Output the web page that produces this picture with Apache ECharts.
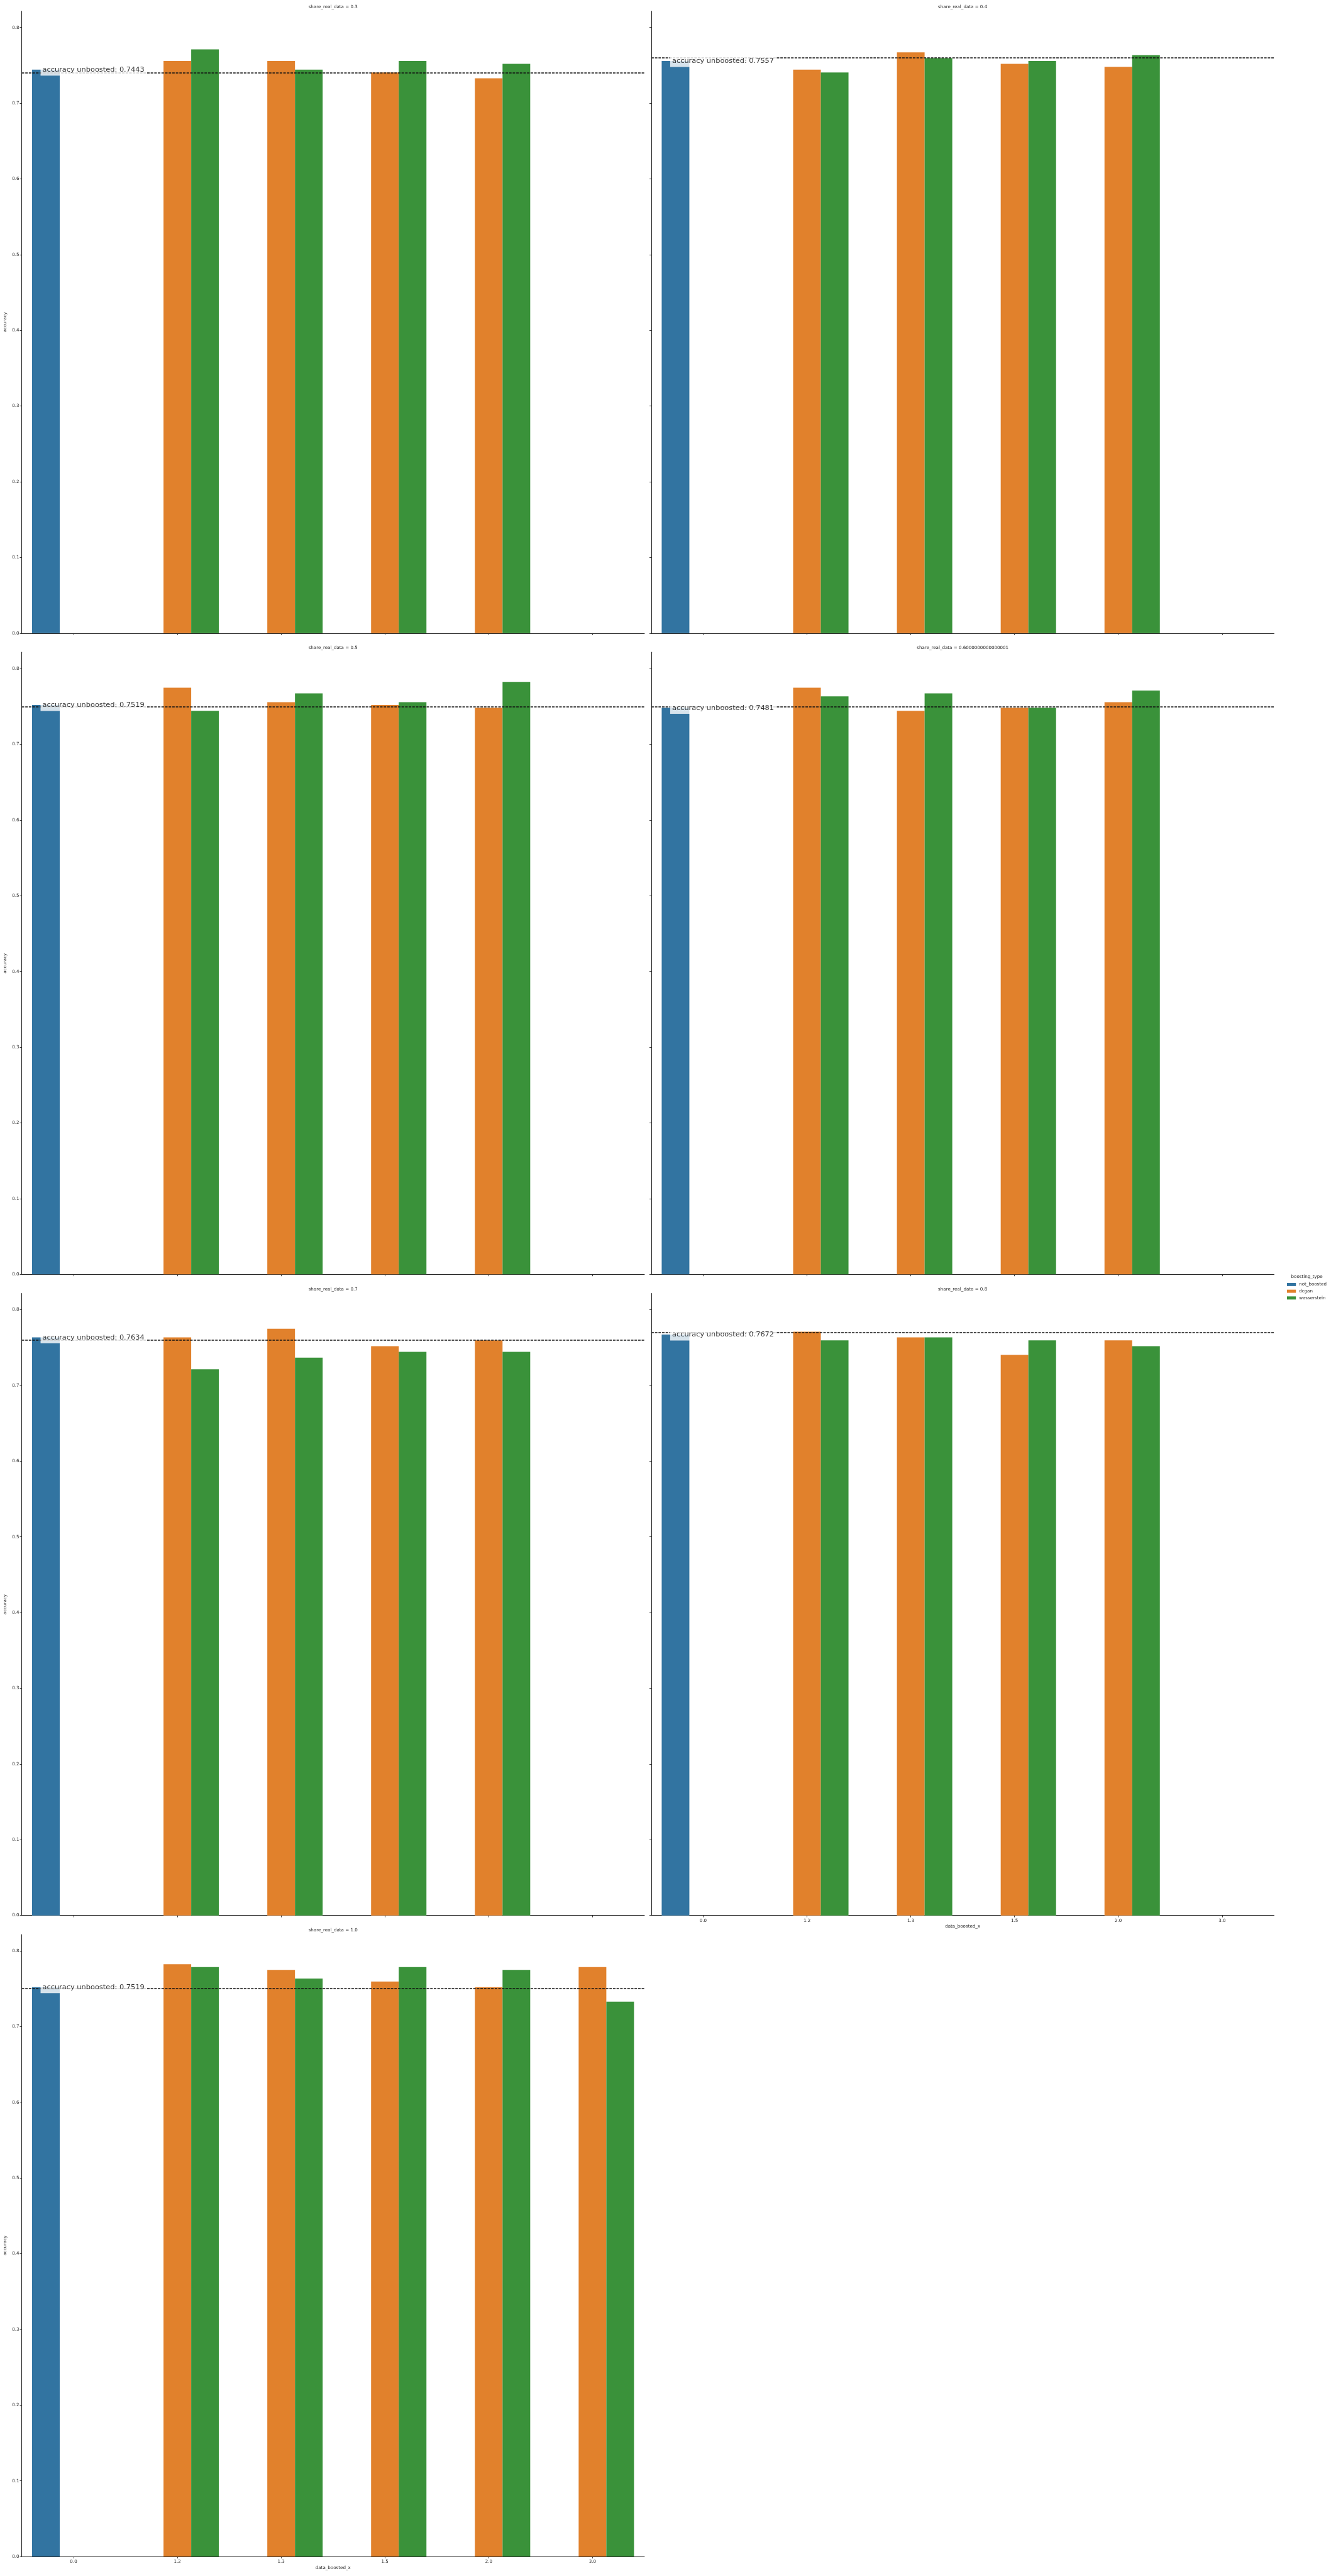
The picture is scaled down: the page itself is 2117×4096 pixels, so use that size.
<!DOCTYPE html>
<html>
<head>
<meta charset="utf-8">
<script src="https://cdn.jsdelivr.net/npm/echarts@6/dist/echarts.min.js"></script>
<style>
html,body{margin:0;padding:0;background:#fff;}
#chart{width:2117px;height:4096px;}
</style>
</head>
<body>
<div id="chart"></div>
<script>
// ---------- data ----------
const categories = ['0.0', '1.2', '1.3', '1.5', '2.0', '3.0'];
const facetTitles = [
  'share_real_data = 0.3', 'share_real_data = 0.4',
  'share_real_data = 0.5', 'share_real_data = 0.6000000000000001',
  'share_real_data = 0.7', 'share_real_data = 0.8',
  'share_real_data = 1.0'
];
const seriesNames = ['not_boosted', 'dcgan', 'wasserstein'];
const accuracyUnboosted = [0.7443, 0.7557, 0.7519, 0.7481, 0.7634, 0.7672, 0.7519];

const notBoosted03 = [0.7443, null, null, null, null, null];
const dcgan03      = [null, 0.7557, 0.7557, 0.7405, 0.7328, null];
const wass03       = [null, 0.7710, 0.7443, 0.7557, 0.7519, null];

const notBoosted04 = [0.7557, null, null, null, null, null];
const dcgan04      = [null, 0.7443, 0.7672, 0.7519, 0.7481, null];
const wass04       = [null, 0.7405, 0.7595, 0.7557, 0.7634, null];

const notBoosted05 = [0.7519, null, null, null, null, null];
const dcgan05      = [null, 0.7748, 0.7557, 0.7519, 0.7481, null];
const wass05       = [null, 0.7443, 0.7672, 0.7557, 0.7824, null];

const notBoosted06 = [0.7481, null, null, null, null, null];
const dcgan06      = [null, 0.7748, 0.7443, 0.7481, 0.7557, null];
const wass06       = [null, 0.7634, 0.7672, 0.7481, 0.7710, null];

const notBoosted07 = [0.7634, null, null, null, null, null];
const dcgan07      = [null, 0.7634, 0.7748, 0.7519, 0.7595, null];
const wass07       = [null, 0.7214, 0.7366, 0.7443, 0.7443, null];

const notBoosted08 = [0.7672, null, null, null, null, null];
const dcgan08      = [null, 0.7710, 0.7634, 0.7405, 0.7595, null];
const wass08       = [null, 0.7595, 0.7634, 0.7595, 0.7519, null];

const notBoosted10 = [0.7519, null, null, null, null, null];
const dcgan10      = [null, 0.7824, 0.7748, 0.7595, 0.7519, 0.7786];
const wass10       = [null, 0.7786, 0.7634, 0.7786, 0.7748, 0.7328];

const yTicks = [0, 0.1, 0.2, 0.3, 0.4, 0.5, 0.6, 0.7, 0.8];
const yMax = 0.8215;
const annotationX = -0.3;

const facetData = [
  [notBoosted03, dcgan03, wass03],
  [notBoosted04, dcgan04, wass04],
  [notBoosted05, dcgan05, wass05],
  [notBoosted06, dcgan06, wass06],
  [notBoosted07, dcgan07, wass07],
  [notBoosted08, dcgan08, wass08],
  [notBoosted10, dcgan10, wass10]
];

// ---------- styling / layout ----------
const S = 0.711;
const FONT = 'DejaVu Sans';
const colors = ['#3274a1', '#e1812c', '#3a923a'];
const axisColor = '#262626';
const small = 10 * S;

const grids = [], xAxes = [], yAxes = [], series = [], titles = [];

facetData.forEach((fd, i) => {
  const col = i % 2, row = Math.floor(i / 2);
  const left = (col ? 1457 : 48.5) * S;
  const top = (25 + 1433.8 * row) * S;
  const width = 1393 * S, height = 1391 * S;
  grids.push({ left: left, top: top, width: width, height: height });

  const bottomPanel = (i === 5 || i === 6);
  xAxes.push({
    type: 'category', gridIndex: i, data: categories,
    boundaryGap: true,
    axisLine: { show: true, onZero: false, lineStyle: { color: axisColor, width: 1.2 } },
    axisTick: { show: true, alignWithLabel: true, length: 3, lineStyle: { color: axisColor, width: 0.9 } },
    axisLabel: { show: bottomPanel, fontSize: small, color: axisColor, fontFamily: FONT, margin: 5 },
    splitLine: { show: false },
    name: bottomPanel ? 'data_boosted_x' : '',
    nameLocation: 'middle', nameGap: 14.5,
    nameTextStyle: { fontSize: small, color: axisColor, fontFamily: FONT }
  });
  xAxes.push({
    type: 'value', gridIndex: i, min: -0.5, max: 5.5, show: false,
    axisLine: { onZero: false }
  });
  yAxes.push({
    type: 'value', gridIndex: i, min: 0, max: yMax,
    axisLine: { show: true, onZero: false, lineStyle: { color: axisColor, width: 1.2 } },
    axisTick: { show: true, length: 3, customValues: yTicks, lineStyle: { color: axisColor, width: 0.9 } },
    axisLabel: {
      show: col === 0, customValues: yTicks, fontSize: small, color: axisColor, fontFamily: FONT, margin: 4,
      formatter: v => v.toFixed(1)
    },
    splitLine: { show: false },
    name: col === 0 ? 'accuracy' : '',
    nameLocation: 'middle', nameGap: 23,
    nameTextStyle: { fontSize: small, color: axisColor, fontFamily: FONT }
  });

  fd.forEach((vals, k) => {
    const s = {
      type: 'bar', name: seriesNames[k],
      xAxisIndex: 2 * i, yAxisIndex: i,
      data: vals,
      barGap: '0%', barCategoryGap: '20%',
      itemStyle: { color: colors[k] },
      z: 2
    };
    if (k === 0) {
      s.markLine = {
        silent: true, symbol: ['none', 'none'],
        label: { show: false },
        lineStyle: { color: '#111', type: [4, 1.7], width: 1.5 },
        data: [{ yAxis: accuracyUnboosted[i] }]
      };
    }
    series.push(s);
  });

  series.push({
    type: 'scatter', name: 'annotation',
    xAxisIndex: 2 * i + 1, yAxisIndex: i,
    data: [[annotationX, accuracyUnboosted[i]]],
    symbolSize: 0, silent: true, z: 10,
    label: {
      show: true, position: 'right', distance: 0, offset: [-3, 0],
      formatter: 'accuracy unboosted: ' + accuracyUnboosted[i].toFixed(4),
      fontSize: 16 * S, color: '#000', fontFamily: FONT,
      backgroundColor: '#fff', padding: [3, 3], lineHeight: 13
    }
  });

  titles.push({
    text: facetTitles[i],
    left: left + width / 2, top: (16.5 + 1433.8 * row) * S - 4.3,
    textAlign: 'center', padding: 0,
    textStyle: { fontSize: small, fontWeight: 'normal', color: axisColor, fontFamily: FONT }
  });
});

titles.push({
  text: 'boosting_type',
  left: 2923.5 * S, top: 2857 * S - 4.3,
  textAlign: 'center', padding: 0,
  textStyle: { fontSize: small, fontWeight: 'normal', color: axisColor, fontFamily: FONT }
});

const option = {
  animation: false,
  backgroundColor: '#fff',
  title: titles,
  legend: {
    data: seriesNames,
    orient: 'vertical',
    left: 2879 * S, top: 2867 * S,
    padding: 0,
    icon: 'rect',
    itemWidth: 20 * S, itemHeight: 7 * S,
    itemGap: 2.7,
    selectedMode: false,
    textStyle: { fontSize: small, color: axisColor, fontFamily: FONT, lineHeight: 8 }
  },
  grid: grids,
  xAxis: xAxes,
  yAxis: yAxes,
  series: series
};

const chart = echarts.init(document.getElementById('chart'), null, { renderer: 'canvas' });
chart.setOption(option);
</script>
</body>
</html>
